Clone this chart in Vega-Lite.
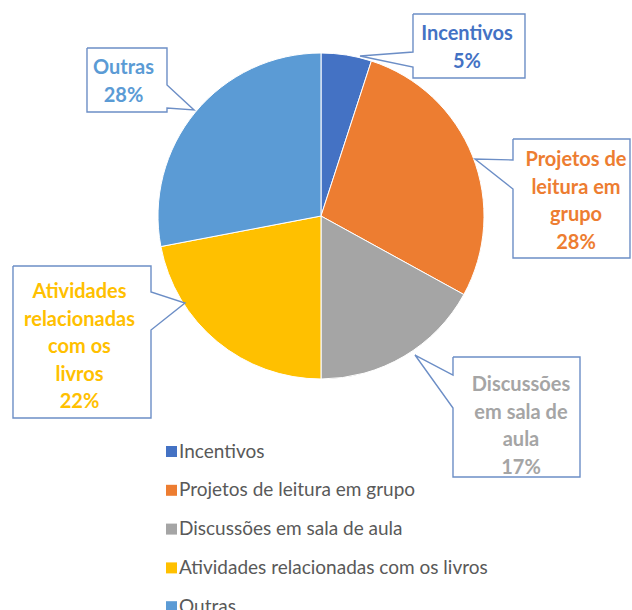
{
  "$schema": "https://vega.github.io/schema/vega-lite/v6.json",
  "width": 632,
  "height": 610,
  "padding": 0,
  "autosize": {"type": "none"},
  "background": "white",
  "config": {"view": {"stroke": null}},
  "datasets": {
    "slices": [
      {"categoria": "Incentivos", "valor": 5, "ordem": 1},
      {"categoria": "Projetos de leitura em grupo", "valor": 28, "ordem": 2},
      {"categoria": "Discussões em sala de aula", "valor": 17, "ordem": 3},
      {"categoria": "Atividades relacionadas com os livros", "valor": 22, "ordem": 4},
      {"categoria": "Outras", "valor": 28, "ordem": 5}
    ],
    "rotulos": [
      {"categoria": "Incentivos", "texto": "Incentivos\n5%", "x": 0.8957, "y": 1.1779},
      {"categoria": "Projetos de leitura em grupo", "texto": "Projetos de\nleitura em\ngrupo\n28%", "x": 1.5644, "y": 0.4049},
      {"categoria": "Discussões em sala de aula", "texto": "Discussões\nem sala de\naula\n17%", "x": 1.2270, "y": -0.9755},
      {"categoria": "Atividades relacionadas com os livros", "texto": "Atividades\nrelacionadas\ncom os\nlivros\n22%", "x": -1.4816, "y": -0.4049},
      {"categoria": "Outras", "texto": "Outras\n28%", "x": -1.2117, "y": 0.9693}
    ],
    "caixas": [
      {"c": 1, "i": 1, "x": 0.5644, "y": 1.2393},
      {"c": 1, "i": 2, "x": 1.2515, "y": 1.2393},
      {"c": 1, "i": 3, "x": 1.2515, "y": 0.8466},
      {"c": 1, "i": 4, "x": 0.5644, "y": 0.8466},
      {"c": 1, "i": 5, "x": 0.5644, "y": 0.9141},
      {"c": 1, "i": 6, "x": 0.2393, "y": 0.9816},
      {"c": 1, "i": 7, "x": 0.5644, "y": 1.0061},
      {"c": 1, "i": 8, "x": 0.5644, "y": 1.2393},
      {"c": 2, "i": 1, "x": 1.1779, "y": 0.4724},
      {"c": 2, "i": 2, "x": 1.8957, "y": 0.4724},
      {"c": 2, "i": 3, "x": 1.8957, "y": -0.2577},
      {"c": 2, "i": 4, "x": 1.1779, "y": -0.2577},
      {"c": 2, "i": 5, "x": 1.1779, "y": 0.1656},
      {"c": 2, "i": 6, "x": 0.9448, "y": 0.3497},
      {"c": 2, "i": 7, "x": 1.1779, "y": 0.3436},
      {"c": 2, "i": 8, "x": 1.1779, "y": 0.4724},
      {"c": 3, "i": 1, "x": 0.8098, "y": -0.8650},
      {"c": 3, "i": 2, "x": 1.5890, "y": -0.8650},
      {"c": 3, "i": 3, "x": 1.5890, "y": -1.6012},
      {"c": 3, "i": 4, "x": 0.8098, "y": -1.6012},
      {"c": 3, "i": 5, "x": 0.8098, "y": -1.1779},
      {"c": 3, "i": 6, "x": 0.5767, "y": -0.8528},
      {"c": 3, "i": 7, "x": 0.8098, "y": -0.9755},
      {"c": 3, "i": 8, "x": 0.8098, "y": -0.8650},
      {"c": 4, "i": 1, "x": -1.8896, "y": -0.3067},
      {"c": 4, "i": 2, "x": -1.0429, "y": -0.3067},
      {"c": 4, "i": 3, "x": -1.0429, "y": -0.4663},
      {"c": 4, "i": 4, "x": -0.8344, "y": -0.5337},
      {"c": 4, "i": 5, "x": -1.0429, "y": -0.6994},
      {"c": 4, "i": 6, "x": -1.0429, "y": -1.2393},
      {"c": 4, "i": 7, "x": -1.8896, "y": -1.2393},
      {"c": 4, "i": 8, "x": -1.8896, "y": -0.3067},
      {"c": 5, "i": 1, "x": -1.4356, "y": 1.0307},
      {"c": 5, "i": 2, "x": -0.9448, "y": 1.0307},
      {"c": 5, "i": 3, "x": -0.9448, "y": 0.8037},
      {"c": 5, "i": 4, "x": -0.7791, "y": 0.6503},
      {"c": 5, "i": 5, "x": -0.9448, "y": 0.6626},
      {"c": 5, "i": 6, "x": -0.9448, "y": 0.6380},
      {"c": 5, "i": 7, "x": -1.4356, "y": 0.6380},
      {"c": 5, "i": 8, "x": -1.4356, "y": 1.0307}
    ]
  },
  "layer": [
    {
      "data": {"name": "slices"},
      "mark": {"type": "arc", "radius": 163, "stroke": "white", "strokeWidth": 1},
      "encoding": {
        "x": {"datum": 0, "type": "quantitative", "scale": {"domain": [-1.9693, 1.9080], "nice": false, "zero": false}, "axis": null},
        "y": {"datum": 0, "type": "quantitative", "scale": {"domain": [-2.4172, 1.3252], "nice": false, "zero": false}, "axis": null},
        "theta": {"field": "valor", "type": "quantitative", "stack": true},
        "order": {"field": "ordem", "type": "quantitative", "sort": "ascending"},
        "color": {
          "field": "categoria",
          "type": "nominal",
          "sort": ["Incentivos", "Projetos de leitura em grupo", "Discussões em sala de aula", "Atividades relacionadas com os livros", "Outras"],
          "scale": {
            "domain": ["Incentivos", "Projetos de leitura em grupo", "Discussões em sala de aula", "Atividades relacionadas com os livros", "Outras"],
            "range": ["#4472C4", "#ED7D31", "#A5A5A5", "#FFC000", "#5B9BD5"]
          },
          "legend": {
            "orient": "none",
            "legendX": 162,
            "legendY": 442,
            "title": null,
            "padding": 0,
            "symbolType": "square",
            "symbolSize": 121,
            "symbolStrokeWidth": 0,
            "labelFont": "Lato",
            "labelFontSize": 19,
            "labelColor": "#595959",
            "labelOffset": -2,
            "rowPadding": 18.8,
            "labelLimit": 400
          }
        }
      }
    },
    {
      "data": {"name": "caixas"},
      "mark": {"type": "line", "stroke": "#6C8EC6", "strokeWidth": 1.4, "strokeJoin": "miter"},
      "encoding": {
        "x": {"field": "x", "type": "quantitative"},
        "y": {"field": "y", "type": "quantitative"},
        "detail": {"field": "c", "type": "nominal"},
        "order": {"field": "i", "type": "quantitative"}
      }
    },
    {
      "data": {"name": "rotulos"},
      "mark": {"type": "text", "font": "Lato", "fontWeight": "bold", "fontSize": 20, "lineBreak": "\n", "lineHeight": 27.5, "align": "center", "baseline": "top"},
      "encoding": {
        "x": {"field": "x", "type": "quantitative"},
        "y": {"field": "y", "type": "quantitative"},
        "text": {"field": "texto", "type": "nominal"},
        "color": {"field": "categoria", "type": "nominal"}
      }
    }
  ]
}
